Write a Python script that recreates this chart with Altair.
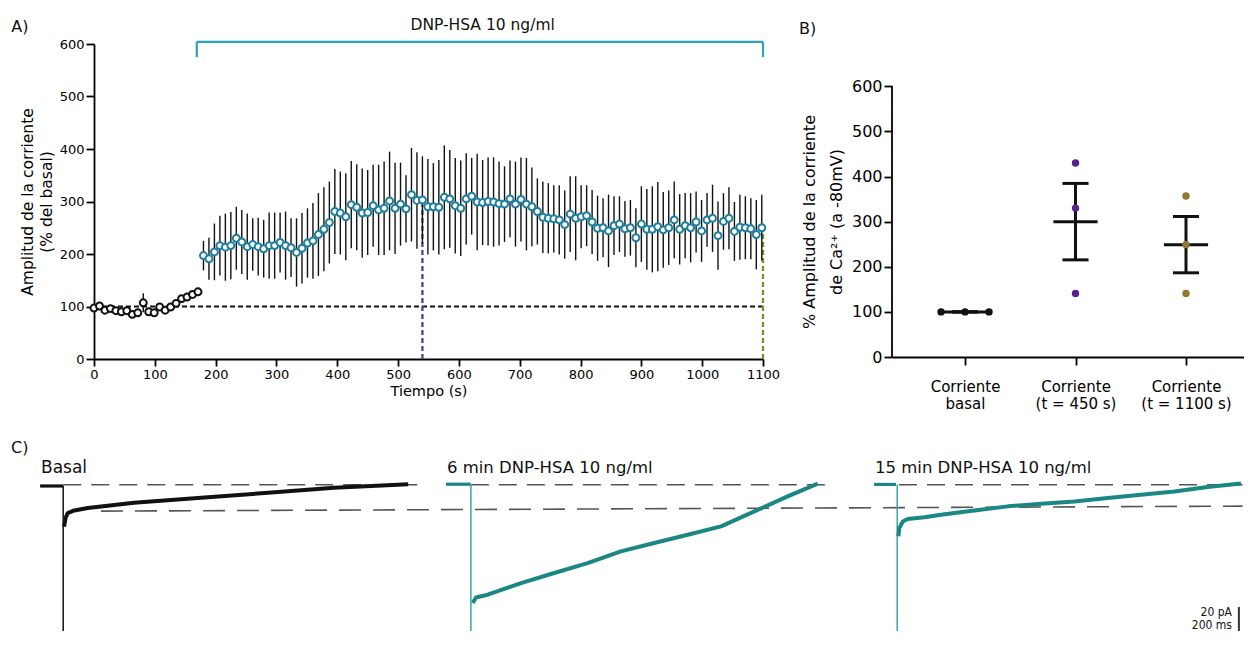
import json
import altair as alt
import pandas as pd

FONT = "DejaVu Sans"
BLACK = "#111111"
TEAL_PT = "#1f7f9e"
TEAL_BR = "#2aa3bd"
PURPLE = "#58208a"
PURPLE_DASH = "#5d3b8f"
OLIVE = "#8e7b2f"
OLIVE_DASH = "#8c8a22"
TRACE_TEAL = "#1b8784"
TRACE_DROP = "#3aa6a3"
DASH_GREY = "#555555"

# ---------------- Panel A data ----------------
black_time = list(range(0, 180, 9))
black_mean = [97, 101, 93, 96, 92, 90, 92, 85, 88, 107, 90, 88, 99, 93, 99, 106, 115, 118, 123, 128]
black_sem = [3, 3, 3, 3, 3, 3, 3, 4, 4, 18, 4, 4, 4, 4, 4, 4, 5, 5, 5, 5]

blue_time = list(range(180, 1100, 9))
blue_mean = [197, 191, 204, 216, 213, 216, 230, 223, 214, 218, 214, 210, 216, 216, 222, 216,
             212, 203, 211, 221, 225, 237, 247, 260, 281, 278, 271, 294, 289, 278, 279, 292, 284, 287, 301, 287,
             295, 286, 313, 302, 303, 290, 290, 289, 308, 305,
             292, 287, 305, 310, 299, 298, 300, 299, 296, 295, 305, 295, 304, 295, 290, 281, 270, 268, 267, 265,
             256, 276, 268, 271, 273, 261, 249, 250, 244,
             254, 257, 248, 250, 231, 257, 247, 247, 252, 246, 250, 265, 247, 254, 250, 261, 244, 265, 268, 235,
             262, 268, 243, 251, 250, 248, 237, 250]
blue_sem = [28, 40, 54, 57, 64, 64, 60, 61, 63, 50, 55, 55, 63, 63, 57, 65,
            56, 65, 67, 66, 72, 79, 80, 78, 81, 79, 83, 83, 82, 85, 81, 78, 86, 89, 94, 87,
            79, 64, 89, 92, 83, 91, 83, 90, 99, 93,
            91, 91, 87, 73, 92, 81, 84, 85, 80, 72, 73, 81, 80, 88, 75, 63, 68, 67, 64, 66,
            65, 72, 80, 60, 58, 61, 62, 56, 69,
            56, 53, 53, 53, 56, 72, 77, 82, 85, 72, 71, 73, 67, 62, 66, 58, 59, 51, 64, 65,
            54, 59, 56, 62, 60, 58, 66, 63]

basal_level = 100
marker_times = [540, 1100]
marker_tops = [295, 240]
marker_colors = [PURPLE_DASH, OLIVE_DASH]
bracket_start, bracket_end = 169, 1100
bracket_level, bracket_foot = 604, 575
drug_label = "DNP-HSA 10 ng/ml"
drug_label_pos = (639, 636)
panel_a_label_pos = (-136, 632)

# ---------------- Panel B data ----------------
b_categories = [["Corriente", "basal"], ["Corriente", "(t = 450 s)"], ["Corriente", "(t = 1100 s)"]]
b_means = [100, 300, 249]
b_sems = [0, 84.7, 62.4]
b_colors = [BLACK, PURPLE, OLIVE]
b_values = [[100, 100, 100], [430, 330, 141], [357, 249, 141]]
b_jitter = [[-0.217, 0, 0.217], [0, 0, 0], [0, 0, 0]]
b_xmin, b_xmax = 0.339, 3.525
panel_b_label_pos = (-0.503, 727)

# ---------------- Panel C data (ms, pA) ----------------
trace_names = ["Basal", "6 min DNP-HSA 10 ng/ml", "15 min DNP-HSA 10 ng/ml"]
trace_start = [97, 1450, 2877]
trace_color = [BLACK, TRACE_TEAL, TRACE_TEAL]
drop_color = [BLACK, TRACE_DROP, TRACE_DROP]
base_t = [[0, 77], [0, 82], [0, 73]]
base_i = [[-1, -1], [0.5, 0.5], [0.3, 0.3]]
drop_t = [77, 83, 77]
decay_t = [[80, 85, 92, 110, 159, 313, 537, 760, 980, 1227],
           [89, 100, 139, 250, 361, 472, 583, 694, 806, 917, 1028, 1139, 1239],
           [81, 84, 96, 112, 168, 223, 334, 446, 557, 668, 779, 890, 1001, 1112, 1223]]
decay_i = [[-35, -27.5, -23.6, -21.7, -19.4, -15, -10.8, -6.7, -2.5, 0.5],
           [-98.6, -94, -91.7, -82, -73.6, -65.3, -55.6, -48.6, -41.7, -34.7, -22.2, -9.7, 1.0],
           [-43, -36, -30.6, -28.6, -27, -25, -21.4, -18, -15.8, -13.9, -11.1, -8.3, -5.6, -1.9, 1.0]]
c_floor = -122
upper_dash_start = [174, 1533, 2960]
upper_dash_end = [1360, 2717, 4105]
lower_dash_u = [300, 4105]
lower_dash_i = [-22, -17.8]
scale_bar_u = 4093
scale_bar_i = [-102, -122]
scale_text = ["20 pA", "200 ms"]
scale_text_i = [-106, -117]

# ================= Panel A =================
xA = alt.Scale(domain=[0, 1100], nice=False, zero=False)
yA = alt.Scale(domain=[0, 600], nice=False)
axXA = alt.Axis(values=list(range(0, 1101, 100)), title="Tiempo (s)", format="d", tickSize=7,
                labelFontSize=13, titleFontSize=14.5, titleFontWeight="normal", labelPadding=2, titlePadding=3,
                labelFlush=False, labelOverlap=False, grid=False)
axYA = alt.Axis(values=list(range(0, 601, 100)), title=["Amplitud de la corriente", "(% del basal)"],
                tickSize=8, labelFontSize=13, titleFontSize=15.5, titleFontWeight="normal", titleLineHeight=19,
                labelPadding=2, titlePadding=5, labelFlush=False, grid=False)


def XA(f):
    return alt.X(f, type="quantitative", scale=xA, axis=axXA)


def YA(f):
    return alt.Y(f, type="quantitative", scale=yA, axis=axYA)


df_ref = pd.DataFrame({"t": [0], "t2": [1100], "v": [basal_level]})
ref_line = alt.Chart(df_ref).mark_rule(color=BLACK, strokeWidth=2, strokeDash=[5, 3]).encode(
    x=XA("t"), x2="t2", y=YA("v"))

df_vd = pd.DataFrame({"t": marker_times, "v": [0, 0], "v2": marker_tops, "c": marker_colors})
vdash = alt.Chart(df_vd).mark_rule(strokeWidth=2.3, strokeDash=[5, 3]).encode(
    x=XA("t"), y=YA("v"), y2="v2", color=alt.Color("c:N", scale=None))

df_black = pd.DataFrame({"t": black_time, "m": black_mean, "s": black_sem})
df_blue = pd.DataFrame({"t": blue_time, "m": blue_mean, "s": blue_sem})
df_err = pd.concat([df_black, df_blue])
err = alt.Chart(df_err).transform_calculate(lo="datum.m - datum.s", hi="datum.m + datum.s").mark_rule(
    color=BLACK, strokeWidth=1.4).encode(x=XA("t"), y=YA("lo"), y2="hi")

pts_black = alt.Chart(df_black).mark_point(shape="circle", filled=True, fill="white", stroke=BLACK,
                                           strokeWidth=2, size=48, opacity=1).encode(x=XA("t"), y=YA("m"))
pts_blue = alt.Chart(df_blue).mark_point(shape="circle", filled=True, fill="white", stroke=TEAL_PT,
                                         strokeWidth=2, size=48, opacity=1).encode(x=XA("t"), y=YA("m"))

df_br = pd.DataFrame({"t": [bracket_start, bracket_start, bracket_end],
                      "t2": [bracket_end, bracket_start, bracket_end],
                      "v": [bracket_level, bracket_level, bracket_level],
                      "v2": [bracket_level, bracket_foot, bracket_foot]})
bracket = alt.Chart(df_br).mark_rule(color=TEAL_BR, strokeWidth=2.2).encode(
    x=XA("t"), x2="t2", y=YA("v"), y2="v2")

df_txtA = pd.DataFrame({"t": [drug_label_pos[0]], "v": [drug_label_pos[1]], "s": [drug_label]})
txt_drug = alt.Chart(df_txtA).mark_text(font=FONT, fontSize=15.5, align="center", baseline="middle",
                                        color=BLACK).encode(x=XA("t"), y=YA("v"), text="s:N")
df_labA = pd.DataFrame({"t": [panel_a_label_pos[0]], "v": [panel_a_label_pos[1]], "s": ["A)"]})
txt_A = alt.Chart(df_labA).mark_text(font=FONT, fontSize=16, align="left", baseline="middle",
                                     color=BLACK).encode(x=XA("t"), y=YA("v"), text="s:N")

chartA = alt.layer(ref_line, vdash, err, pts_black, pts_blue, bracket, txt_drug, txt_A).properties(
    width=669, height=315)

# ================= Panel B =================
xB = alt.Scale(domain=[b_xmin, b_xmax], nice=False, zero=False)
yB = alt.Scale(domain=[0, 693.7], nice=False)
label_expr = " : ".join(
    [f"datum.value == {k + 1} ? {json.dumps(lab)}" for k, lab in enumerate(b_categories[:-1])]
) + " : " + json.dumps(b_categories[-1])
axXB = alt.Axis(values=[1, 2, 3], labelExpr=label_expr, title=None, tickSize=8, labelFontSize=15,
                labelLineHeight=17, labelPadding=14, labelFlush=False, labelOverlap=False, grid=False)
axYB = alt.Axis(values=list(range(0, 601, 100)), domain=False, tickSize=8, labelFontSize=16,
                labelPadding=2, title=["% Amplitud de la corriente", "de Ca²⁺ (a -80mV)"],
                titleFontSize=16, titleFontWeight="normal", titleLineHeight=27, titlePadding=7,
                titleY=177.5, grid=False)


def XB(f):
    return alt.X(f, type="quantitative", scale=xB, axis=axXB)


def YB(f):
    return alt.Y(f, type="quantitative", scale=yB, axis=axYB)


df_axis = pd.DataFrame({"x": [b_xmin], "v": [0], "v2": [600]})
yaxis_line = alt.Chart(df_axis).mark_rule(color="#000000", strokeWidth=1.8).encode(
    x=XB("x"), y=YB("v"), y2="v2")

df_sum = pd.DataFrame({"x": [1, 2, 3], "m": b_means, "s": b_sems})
sem_bar = alt.Chart(df_sum).transform_calculate(lo="datum.m - datum.s", hi="datum.m + datum.s").mark_rule(
    color=BLACK, strokeWidth=3).encode(x=XB("x"), y=YB("lo"), y2="hi")
caps_lo = alt.Chart(df_sum).transform_calculate(
    a="datum.x - 0.118", b="datum.x + 0.118", lo="datum.m - datum.s").mark_rule(
    color=BLACK, strokeWidth=3).encode(x=XB("a"), x2="b", y=YB("lo"))
caps_hi = alt.Chart(df_sum).transform_calculate(
    a="datum.x - 0.118", b="datum.x + 0.118", hi="datum.m + datum.s").mark_rule(
    color=BLACK, strokeWidth=3).encode(x=XB("a"), x2="b", y=YB("hi"))
mean_line = alt.Chart(df_sum).transform_calculate(
    a="datum.x - 0.2", b="datum.x + 0.2").mark_rule(
    color=BLACK, strokeWidth=3).encode(x=XB("a"), x2="b", y=YB("m"))

rows_b = []
for g in range(3):
    for v, j in zip(b_values[g], b_jitter[g]):
        rows_b.append({"x": g + 1 + j, "v": v, "c": b_colors[g]})
df_pts_b = pd.DataFrame(rows_b)
pts_b = alt.Chart(df_pts_b).mark_circle(size=55, opacity=1).encode(
    x=XB("x"), y=YB("v"), color=alt.Color("c:N", scale=None))

df_labB = pd.DataFrame({"x": [panel_b_label_pos[0]], "v": [panel_b_label_pos[1]], "s": ["B)"]})
txt_B = alt.Chart(df_labB).mark_text(font=FONT, fontSize=16, align="left", baseline="middle",
                                     color=BLACK).encode(x=XB("x"), y=YB("v"), text="s:N")

chartB = alt.layer(yaxis_line, sem_bar, caps_lo, caps_hi, mean_line, pts_b, txt_B).properties(
    width=352, height=313)

# ================= Panel C =================
xC = alt.Scale(domain=[276.7, 4106.7], nice=False, zero=False)
yC = alt.Scale(domain=[c_floor, 4], nice=False, zero=False)


def XC(f):
    return alt.X(f, type="quantitative", scale=xC, axis=None)


def YC(f):
    return alt.Y(f, type="quantitative", scale=yC, axis=None)


rows = []
for n in range(3):
    s = trace_start[n]
    for k, (t, v) in enumerate(zip(base_t[n], base_i[n])):
        rows.append({"key": f"{n}b", "k": k, "u": s + t, "i": v, "c": trace_color[n], "w": 3.2})
    rows.append({"key": f"{n}d", "k": 0, "u": s + drop_t[n], "i": base_i[n][-1], "c": drop_color[n], "w": 1.5})
    rows.append({"key": f"{n}d", "k": 1, "u": s + drop_t[n], "i": c_floor, "c": drop_color[n], "w": 1.5})
    for k, (t, v) in enumerate(zip(decay_t[n], decay_i[n])):
        rows.append({"key": f"{n}r", "k": k, "u": s + t, "i": v, "c": trace_color[n], "w": 4})
df_tr = pd.DataFrame(rows)
traces = alt.Chart(df_tr).mark_line(strokeJoin="round").encode(
    x=XC("u"), y=YC("i"), detail="key:N", order="k:Q",
    color=alt.Color("c:N", scale=None), strokeWidth=alt.StrokeWidth("w:Q", scale=None))

df_up = pd.DataFrame({"u": upper_dash_start, "u2": upper_dash_end, "i": [0, 0, 0]})
up_dash = alt.Chart(df_up).mark_rule(color=DASH_GREY, strokeWidth=1.6, strokeDash=[18, 10]).encode(
    x=XC("u"), x2="u2", y=YC("i"))
df_lo = pd.DataFrame({"u": [lower_dash_u[0]], "u2": [lower_dash_u[1]], "i": [lower_dash_i[0]],
                      "i2": [lower_dash_i[1]]})
lo_dash = alt.Chart(df_lo).mark_rule(color=DASH_GREY, strokeWidth=1.6, strokeDash=[22, 12]).encode(
    x=XC("u"), x2="u2", y=YC("i"), y2="i2")

df_bar = pd.DataFrame({"u": [scale_bar_u], "i": [scale_bar_i[0]], "i2": [scale_bar_i[1]]})
sbar = alt.Chart(df_bar).mark_rule(color="#333333", strokeWidth=2).encode(x=XC("u"), y=YC("i"), y2="i2")
df_sbt = pd.DataFrame({"u": [scale_bar_u - 23, scale_bar_u - 23], "i": scale_text_i, "s": scale_text})
sbar_txt = alt.Chart(df_sbt).mark_text(font="DejaVu Sans Condensed, DejaVu Sans", fontSize=12, align="right",
                                       baseline="middle", color=BLACK).encode(x=XC("u"), y=YC("i"), text="s:N")

df_tl = pd.DataFrame({"u": [0] + [s + 3 for s in trace_start], "i": [31, 14, 14, 14],
                      "s": ["C)"] + trace_names, "f": [16, 17, 16.5, 16.5]})
tlabels = alt.Chart(df_tl).mark_text(font=FONT, align="left", baseline="middle", color=BLACK).encode(
    x=XC("u"), y=YC("i"), text="s:N", size=alt.Size("f:Q", scale=None))

chartC = alt.layer(lo_dash, up_dash, traces, sbar, sbar_txt, tlabels).properties(width=1149, height=151)

chart = alt.vconcat(
    alt.hconcat(chartA, chartB, spacing=18),
    chartC,
    spacing=28,
).properties(
    padding={"left": 2, "top": 10, "right": 0, "bottom": 0},
    background="white",
).configure_view(
    stroke="transparent", strokeWidth=0
).configure_axis(
    labelFont=FONT, titleFont=FONT, labelColor="#000000", titleColor="#000000",
    domainColor="#000000", tickColor="#000000", domainWidth=1.8, tickWidth=1.8,
    titleFontWeight="normal", grid=False
)

chart.save("out.html", embed_options={"renderer": "svg", "actions": False})
